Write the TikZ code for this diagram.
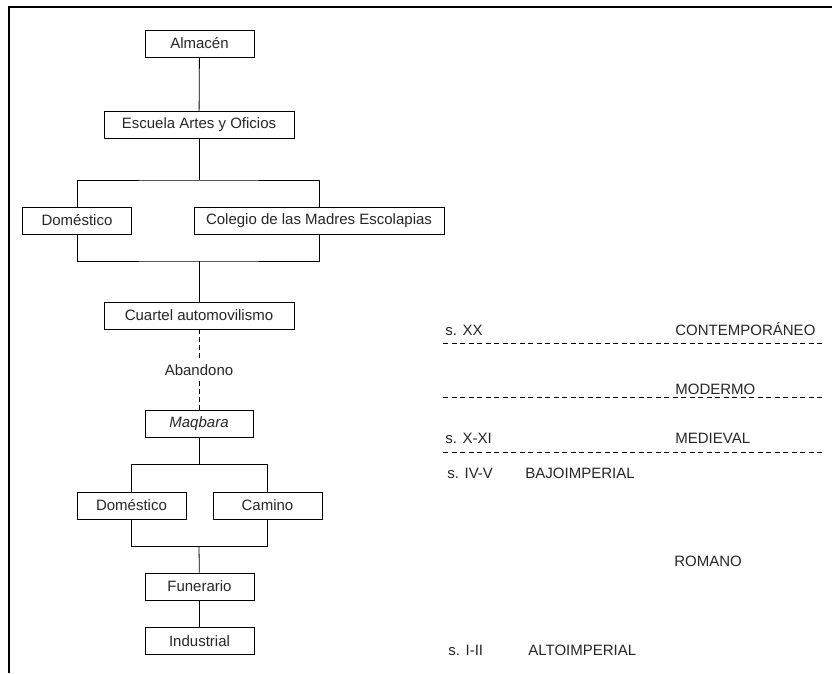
\documentclass[tikz,border=0pt]{standalone}
\usepackage{fontspec}
\setmainfont{Liberation Sans}
\usepackage{tikz}
\usetikzlibrary{positioning,calc}

\begin{document}
\begin{tikzpicture}[x=1pt, y=-1pt, line width=0.8pt]
  \tikzset{uso box/.style={draw, text=black!85, minimum height=27pt, inner sep=0pt, font=\fontsize{15}{18}\selectfont},
           periodo/.style={anchor=base west, inner sep=0pt, text=black!85, font=\fontsize{15}{18}\selectfont},
           corte line/.style={line width=0.7pt, dash pattern=on 5pt off 3.5pt}}
    \useasboundingbox (0,0) rectangle (832,673);
    \draw[line width=1.6pt] (832,7) -- (9,7) -- (9,673);

    \node[uso box, minimum width=109pt] (almacen) at (199.5, 43.5) {Almacén};
    \node[uso box, minimum width=190pt] (escuela) at (199, 125) {Escuela Artes y Oficios};
    \node[uso box, minimum width=109pt] (domA) at (77, 220.5) {Doméstico};
    \node[uso box, minimum width=250pt] (colegio) at (319, 220.5) {Colegio de las Madres Escolapias};
    \node[uso box, minimum width=190pt] (cuartel) at (199, 315.5) {Cuartel automovilismo};
    \node[periodo, anchor=center, inner sep=5pt] (abandono) at (199, 370) {Abandono};
    \node[uso box, minimum width=108pt] (maqbara) at (199, 423.5) {\textit{Maqbara}};
    \node[uso box, minimum width=109pt] (domB) at (131.5, 505.5) {Doméstico};
    \node[uso box, minimum width=109pt] (camino) at (267.5, 505.5) {Camino};
    \node[uso box, minimum width=109pt] (funerario) at (199.5, 586.5) {Funerario};
    \node[uso box, minimum width=109pt] (industrial) at (199.5, 641) {Industrial};

    \coordinate (splitA) at (199, 180);
    \coordinate (joinA) at (199, 261);
    \coordinate (splitB) at (199, 464);
    \coordinate (joinB) at (199, 546);

    \draw (almacen) -- (escuela);
    \draw (escuela) -- (splitA);
    \draw (domA) |- (splitA) -| (colegio);
    \draw (domA) |- (joinA) -| (colegio);
    \draw (joinA) -- (cuartel);
    \draw[dash pattern=on 5pt off 3pt] (cuartel) -- (abandono);
    \draw[dash pattern=on 5pt off 3pt] (abandono) -- (maqbara);
    \draw (maqbara) -- (splitB);
    \draw (domB) |- (splitB) -| (camino);
    \draw (domB) |- (joinB) -| (camino);
    \draw (joinB) -- (funerario);
    \draw (funerario) -- (industrial);

    \draw[corte line] (443, 343) -- (823, 343);
    \draw[corte line] (443, 397) -- (823, 397);
    \draw[corte line] (443, 452) -- (823, 452);

    \node[periodo] (sXX) at (445, 335) {s. XX};
    \node[periodo] (contemporaneo) at (675, 335) {CONTEMPORÁNEO};
    \node[periodo] (moderno) at (675, 394) {MODERMO};
    \node[periodo] (sXXI) at (445, 443) {s. X-XI};
    \node[periodo] (medieval) at (675, 443) {MEDIEVAL};
    \node[periodo] (sIVV) at (447, 478) {s. IV-V};
    \node[periodo] (bajo) at (525, 478) {BAJOIMPERIAL};
    \node[periodo] (romano) at (674, 566) {ROMANO};
    \node[periodo] (sIII) at (448, 655) {s. I-II};
    \node[periodo] (alto) at (528, 655) {ALTOIMPERIAL};
\end{tikzpicture}
\end{document}
